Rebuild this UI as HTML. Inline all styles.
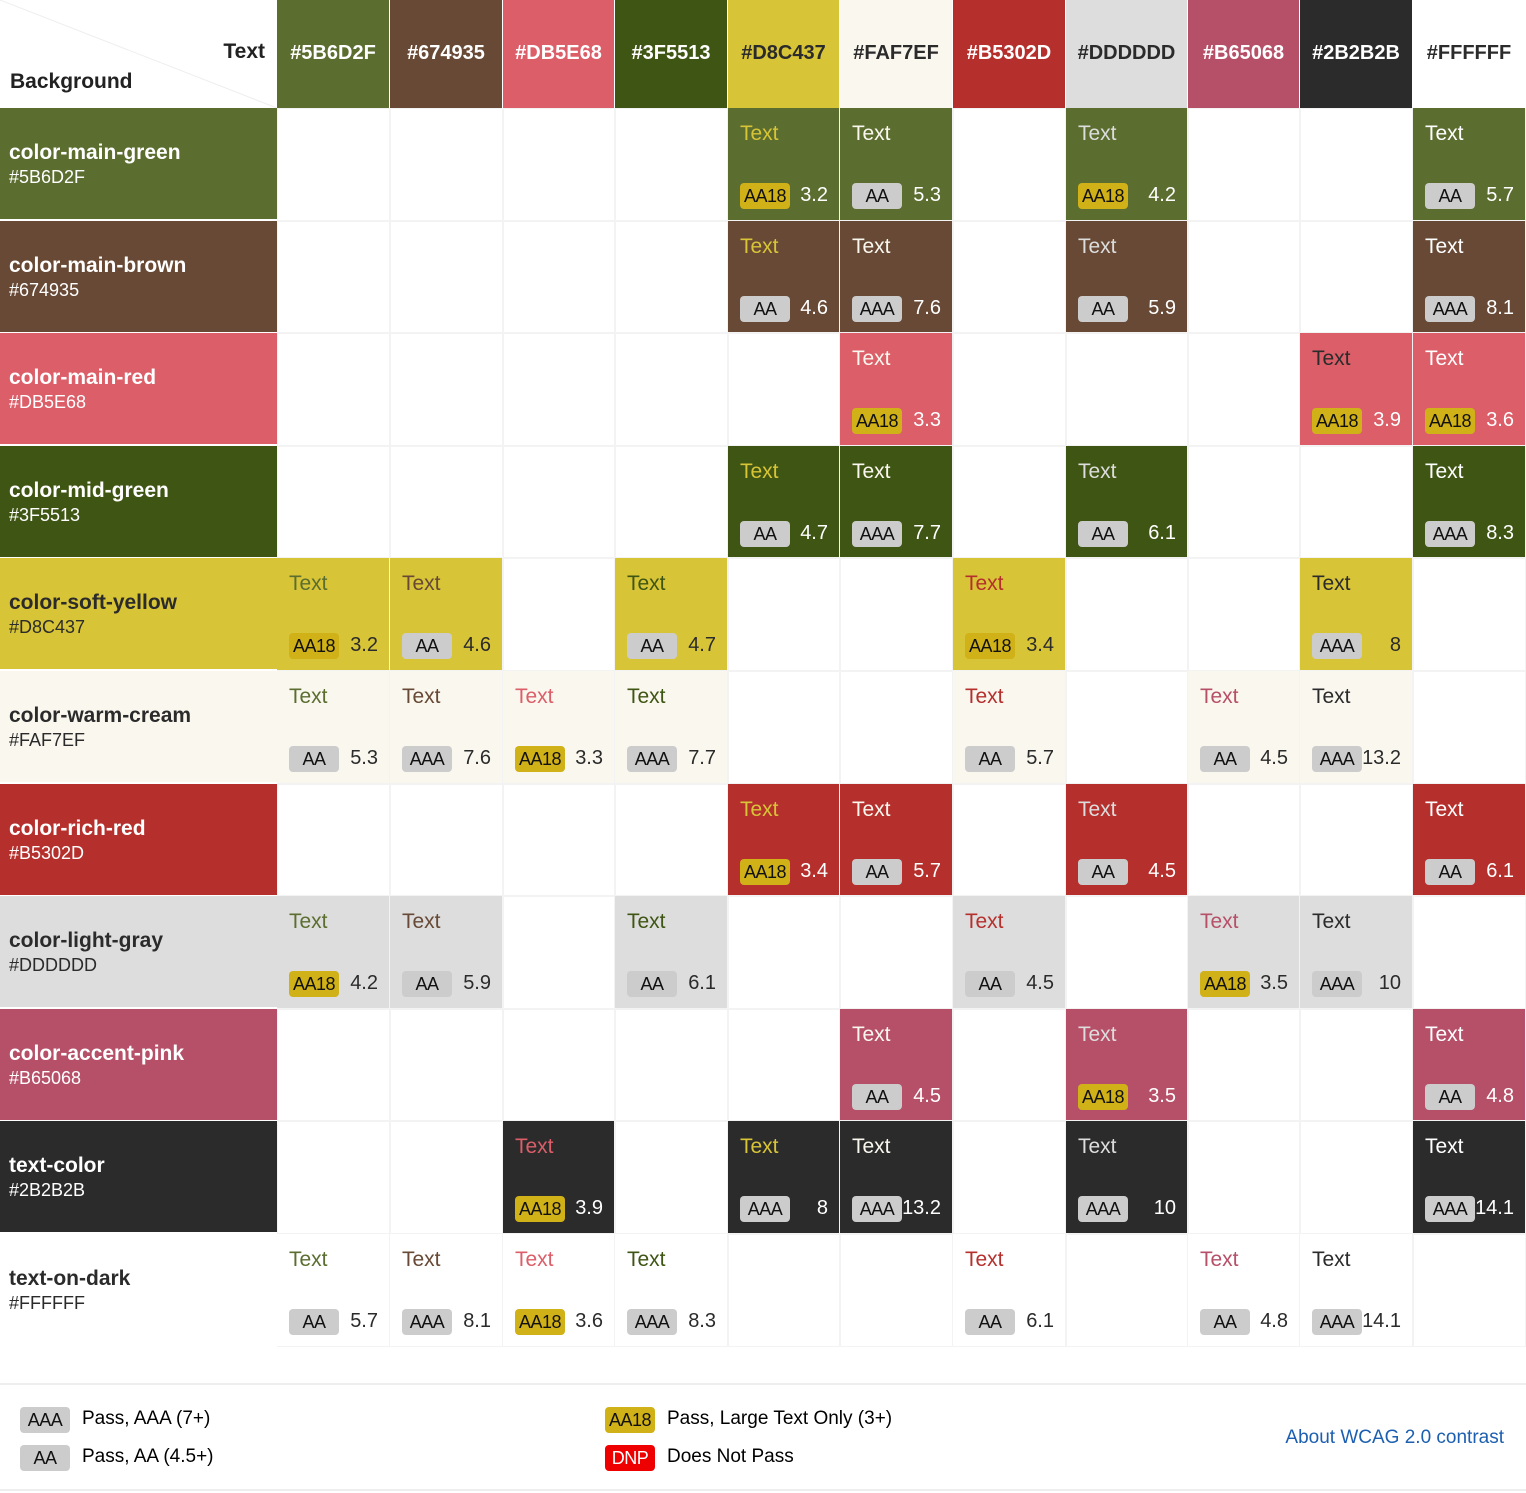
<!DOCTYPE html>
<html><head><meta charset="utf-8"><style>
body{margin:0;width:1526px;height:1493px;background:#fff;font-family:"Liberation Sans",sans-serif;position:relative;overflow:hidden}
.a{position:absolute;box-sizing:border-box}
.badge{position:absolute;height:26px;width:50px;border-radius:4px;font-size:18px;line-height:26px;text-align:center;color:#111;letter-spacing:-0.5px}
</style></head><body>
<div id="grid"></div>
<div class="a" style="left:0;top:1383px;width:1526px;height:108px;border-top:2px solid #eee;border-bottom:2px solid #eee">
  <div class="badge" style="left:20px;top:22px;background:#ccc">AAA</div>
  <div class="a" style="left:82px;top:23px;font-size:19px">Pass, AAA (7+)</div>
  <div class="badge" style="left:20px;top:60px;background:#ccc">AA</div>
  <div class="a" style="left:82px;top:61px;font-size:19px">Pass, AA (4.5+)</div>
  <div class="badge" style="left:605px;top:22px;background:#d1b118">AA18</div>
  <div class="a" style="left:667px;top:23px;font-size:19px">Pass, Large Text Only (3+)</div>
  <div class="badge" style="left:605px;top:60px;background:#e00;color:#fff">DNP</div>
  <div class="a" style="left:667px;top:61px;font-size:19px">Does Not Pass</div>
  <div class="a" style="right:22px;top:42px;font-size:19px;color:#1c5fb0">About WCAG 2.0 contrast</div>
</div>
<script>
const colHex=["#5B6D2F","#674935","#DB5E68","#3F5513","#D8C437","#FAF7EF","#B5302D","#DDDDDD","#B65068","#2B2B2B","#FFFFFF"];
const rowNames=["color-main-green","color-main-brown","color-main-red","color-mid-green","color-soft-yellow","color-warm-cream","color-rich-red","color-light-gray","color-accent-pink","text-color","text-on-dark"];
const rowHex=["#5B6D2F","#674935","#DB5E68","#3F5513","#D8C437","#FAF7EF","#B5302D","#DDDDDD","#B65068","#2B2B2B","#FFFFFF"];
const lightHex=["#D8C437","#FAF7EF","#DDDDDD","#FFFFFF"];
// [row, col, rating, ratio]
const pairs=[
[0,4,"AA18","3.2"],[0,5,"AA","5.3"],[0,7,"AA18","4.2"],[0,10,"AA","5.7"],
[1,4,"AA","4.6"],[1,5,"AAA","7.6"],[1,7,"AA","5.9"],[1,10,"AAA","8.1"],
[2,5,"AA18","3.3"],[2,9,"AA18","3.9"],[2,10,"AA18","3.6"],
[3,4,"AA","4.7"],[3,5,"AAA","7.7"],[3,7,"AA","6.1"],[3,10,"AAA","8.3"],
[4,0,"AA18","3.2"],[4,1,"AA","4.6"],[4,3,"AA","4.7"],[4,6,"AA18","3.4"],[4,9,"AAA","8"],
[5,0,"AA","5.3"],[5,1,"AAA","7.6"],[5,2,"AA18","3.3"],[5,3,"AAA","7.7"],[5,6,"AA","5.7"],[5,8,"AA","4.5"],[5,9,"AAA","13.2"],
[6,4,"AA18","3.4"],[6,5,"AA","5.7"],[6,7,"AA","4.5"],[6,10,"AA","6.1"],
[7,0,"AA18","4.2"],[7,1,"AA","5.9"],[7,3,"AA","6.1"],[7,6,"AA","4.5"],[7,8,"AA18","3.5"],[7,9,"AAA","10"],
[8,5,"AA","4.5"],[8,7,"AA18","3.5"],[8,10,"AA","4.8"],
[9,2,"AA18","3.9"],[9,4,"AAA","8"],[9,5,"AAA","13.2"],[9,7,"AAA","10"],[9,10,"AAA","14.1"],
[10,0,"AA","5.7"],[10,1,"AAA","8.1"],[10,2,"AA18","3.6"],[10,3,"AAA","8.3"],[10,6,"AA","6.1"],[10,8,"AA","4.8"],[10,9,"AAA","14.1"]
];
const colEdges=[277,390,503,615,728,840,953,1066,1188,1300,1413,1526];
const rowTop=i=>108+i*112.6;
const g=document.getElementById('grid');
function mk(css,parent){const d=document.createElement('div');d.className='a';d.style.cssText=css;(parent||g).appendChild(d);return d;}
function fg(h){return lightHex.includes(h)?'#2B2B2B':'#fff';}
// corner
let c=mk('left:0;top:0;width:277px;height:108px;');


c.innerHTML='<svg width="277" height="108" style="position:absolute;left:0;top:0"><line x1="0" y1="0" x2="277" y2="108" stroke="#eee" stroke-width="1"/></svg><div style="position:absolute;right:12px;top:40px;font-size:21px;font-weight:bold;color:#222">Text</div><div style="position:absolute;left:10px;top:70px;font-size:21px;font-weight:bold;color:#222">Background</div>';
colHex.forEach((h,i)=>{
  const d=mk(`left:${colEdges[i]}px;top:0;width:${colEdges[i+1]-colEdges[i]}px;height:108px;background:${h};color:${fg(h)};font-size:20px;font-weight:bold;text-align:center;line-height:106px;border-right:1px solid #fff;`);
  
  
  d.textContent=h;
});
rowNames.forEach((n,r)=>{
  const h=rowHex[r],t=rowTop(r);
  const d=mk(`left:0;top:${t}px;width:277px;height:112px;background:${h};color:${fg(h)};padding:33px 0 0 9px;border-bottom:1px solid #fff`);
  
  
  d.innerHTML=`<div style="font-size:21px;font-weight:bold">${n}</div><div style="font-size:18px;margin-top:2px">${h}</div>`;
  for(let ci=0;ci<11;ci++){
    const e=mk(`left:${colEdges[ci]}px;top:${t}px;width:${colEdges[ci+1]-colEdges[ci]}px;height:112.6px;border:1px solid #f3f3f3`);
    
    
  }
});
pairs.forEach(p=>{
  const [r,ci,rating,val]=p;
  const x=colEdges[ci],w=colEdges[ci+1]-x,t=rowTop(r);
  const d=mk(`left:${x}px;top:${t}px;width:${w-1}px;height:111.6px;background:${rowHex[r]};`);
  
  
  const tx=mk(`left:12px;top:14px;font-size:21px;color:${colHex[ci]}`,d);
  
  
  tx.textContent='Text';
  const b=document.createElement('div');b.className='badge';
  b.style.cssText=`left:12px;top:75px;background:${rating==='AA18'?'#d1b118':'#ccc'}`;
  
  
  b.textContent=rating;d.appendChild(b);
  const v=mk(`right:11px;top:76px;font-size:20px;color:${fg(rowHex[r])}`,d);
  
  
  v.textContent=val;
});
</script>
</body></html>
